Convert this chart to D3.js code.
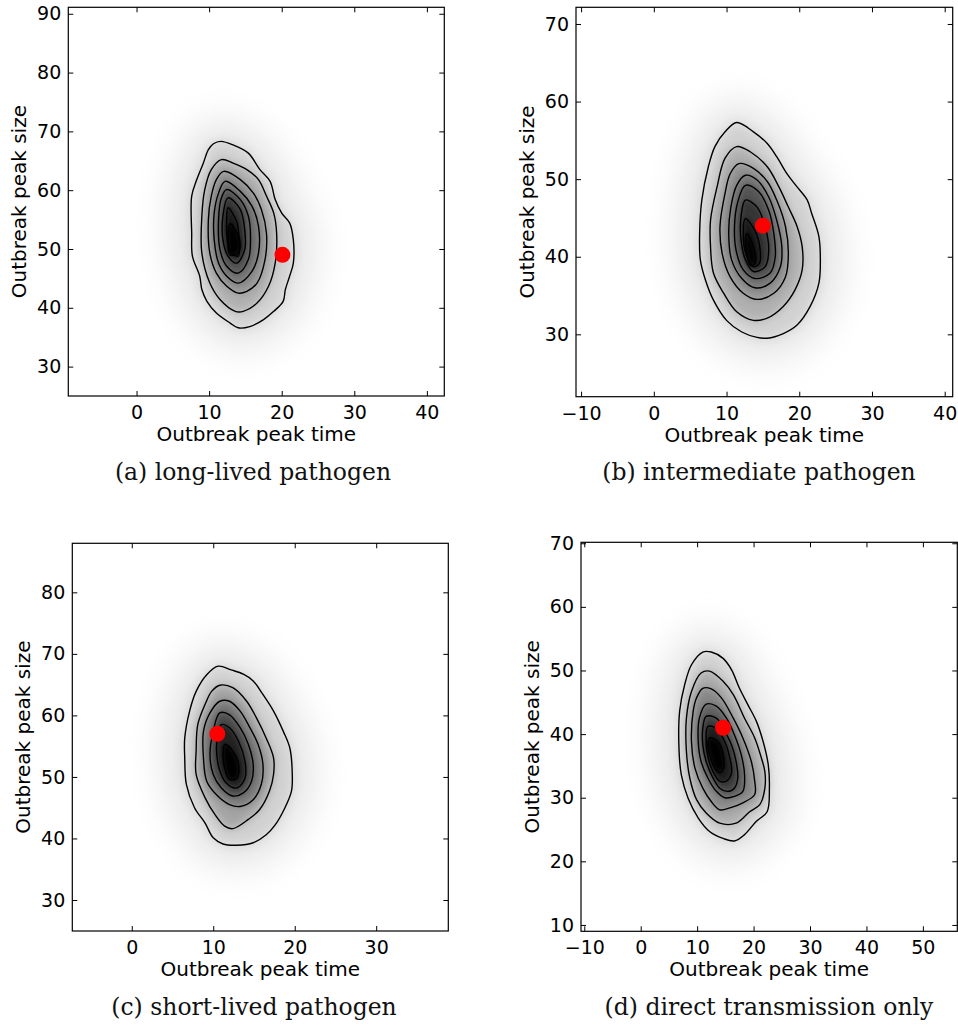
<!DOCTYPE html>
<html>
<head>
<meta charset="utf-8">
<script src="https://cdn.jsdelivr.net/npm/d3@7"></script>
<style>
  body { margin: 0; background: #fff; }
  svg { display: block; }
  .tick text { font-family: "DejaVu Sans", sans-serif; font-size: 19px; fill: #000; }
  .tick line { stroke: #000; }
  .axis-label { font-family: "DejaVu Sans", sans-serif; font-size: 20px; fill: #000; }
  .caption { font-family: "DejaVu Serif", serif; font-size: 23.5px; fill: #111; }
</style>
</head>
<body>
<div id="chart"></div>
<script>
// panel texts and axis limits
const captions = ['(a) long-lived pathogen', '(b) intermediate pathogen', '(c) short-lived pathogen', '(d) direct transmission only'];
const xDomains = [[-9.4, 42.4], [-10.7, 41.1], [-7.3, 38.85], [-10.58, 56.1]];
const yDomains = [[25, 91.1], [21.96, 72.15], [24.96, 87.97], [9.0, 70.15]];
const xTicks = [[0, 10, 20, 30, 40], [-10, 0, 10, 20, 30, 40], [0, 10, 20, 30], [-10, 0, 10, 20, 30, 40, 50]];
const yTicks = [[30, 40, 50, 60, 70, 80, 90], [30, 40, 50, 60, 70], [30, 40, 50, 60, 70, 80], [10, 20, 30, 40, 50, 60, 70]];

// observed outbreak (peak time, peak size) - red dots
const observed = [[20.1, 49.0], [15.0, 44.0], [10.5, 57.0], [14.6, 41.0]];

// density contour rings (peak time, peak size), outermost first
const contoursA = [
  [[11.6,68.3],[13.3,67.7],[15.4,66.3],[17.0,63.5],[18.4,61.5],[19.1,58.4],[20.0,56.1],[21.1,54.4],[21.6,51.6],[21.6,47.6],[21.1,45.4],[20.5,43.1],[20.2,41.1],[18.9,39.4],[17.5,38.0],[15.6,36.8],[14.0,36.6],[12.9,37.4],[11.0,39.1],[9.7,41.1],[9.0,43.1],[8.7,45.4],[7.7,48.8],[7.6,52.7],[7.6,59.0],[8.3,61.8],[9.2,64.6],[9.9,66.9],[10.6,67.9]],
  [[11.7,65.2],[13.3,64.6],[15.2,63.5],[16.8,61.8],[17.9,59.0],[18.9,56.1],[19.3,52.7],[19.1,47.6],[18.2,43.7],[16.6,40.8],[14.7,39.4],[13.6,39.4],[11.5,41.4],[10.1,44.2],[9.0,49.3],[9.0,55.6],[9.4,60.1],[10.3,63.5]],
  [[12.0,63.2],[14.3,61.8],[16.1,59.5],[17.2,56.7],[17.9,52.7],[17.7,48.2],[16.6,44.2],[15.2,42.8],[14.0,42.5],[12.4,43.7],[11.0,45.9],[10.1,49.3],[9.9,55.0],[10.3,59.0],[11.0,61.8]],
  [[12.2,61.5],[14.3,59.8],[15.9,57.3],[16.8,53.9],[16.8,49.3],[15.9,46.2],[14.0,44.2],[12.4,45.4],[11.3,47.6],[10.7,51.6],[10.7,56.1],[11.3,59.5]],
  [[12.4,60.1],[14.3,58.4],[15.4,55.6],[15.7,51.6],[15.4,48.2],[14.0,45.9],[12.4,47.1],[11.5,49.9],[11.3,55.0],[11.7,58.7]],
  [[12.6,58.7],[14.3,56.7],[14.9,53.3],[14.9,49.9],[13.8,47.6],[12.6,48.8],[11.9,51.6],[11.9,55.6]],
  [[12.6,57.0],[13.8,54.7],[14.1,52.2],[14.0,48.8],[13.1,49.3],[12.5,51.6],[12.4,54.7]],
  [[12.9,54.3],[14.2,51.6],[14.0,49.3],[12.9,49.0],[12.6,52.1]]
];

const contoursB = [
  [[11.4,57.3],[13.7,56.1],[15.6,54.6],[16.9,52.9],[18.3,50.7],[19.7,49.0],[21.1,47.3],[21.7,45.6],[22.7,42.6],[22.9,39.6],[22.7,36.6],[21.5,33.6],[19.7,31.2],[17.8,30.1],[15.6,29.5],[14.2,29.6],[12.1,30.3],[10.0,31.8],[8.2,34.4],[7.1,37.0],[6.4,39.6],[6.3,43.0],[6.6,47.3],[7.5,51.6],[8.4,54.2],[9.8,56.1]],
  [[11.4,54.2],[13.3,53.5],[15.6,51.6],[17.2,49.0],[18.5,46.4],[19.7,43.9],[20.4,41.3],[20.4,38.3],[19.4,35.7],[17.8,33.6],[15.6,32.1],[13.7,31.8],[11.4,32.9],[9.6,35.3],[8.2,37.9],[7.8,41.3],[7.8,44.7],[8.7,49.0],[9.8,52.7]],
  [[11.7,52.0],[13.7,51.4],[15.6,49.7],[16.9,47.3],[18.1,43.9],[18.5,40.4],[18.1,37.4],[16.5,35.3],[14.2,34.5],[12.3,35.3],[10.5,37.4],[9.4,40.4],[9.1,43.9],[9.8,48.2],[10.5,50.7]],
  [[12.6,50.5],[14.2,49.9],[15.8,47.7],[16.9,44.7],[17.6,41.3],[17.4,38.7],[16.0,36.6],[13.9,36.0],[12.1,37.2],[10.7,39.6],[10.3,43.0],[10.6,46.4],[11.4,49.2]],
  [[12.6,49.2],[14.4,48.4],[15.8,46.0],[16.5,43.0],[16.7,40.0],[16.0,37.9],[13.9,37.2],[12.3,38.3],[11.3,40.9],[11.1,43.9],[11.5,46.9]],
  [[12.6,47.3],[14.2,46.4],[15.3,43.9],[15.8,40.9],[15.3,38.7],[13.7,38.1],[12.6,39.6],[12.0,42.1],[12.0,45.2]],
  [[12.6,44.9],[13.9,43.4],[14.6,41.1],[14.5,39.1],[13.7,38.7],[12.8,40.0],[12.3,42.6]],
  [[12.8,43.0],[13.7,41.3],[13.9,39.1],[13.3,38.9],[12.8,40.4],[12.6,42.1]]
];

const contoursC = [
  [[10.6,68.0],[12.2,67.4],[13.7,66.7],[14.9,65.6],[16.1,63.4],[17.4,60.7],[18.6,57.4],[19.4,54.7],[19.7,50.4],[19.6,47.7],[18.8,45.0],[17.6,42.2],[16.5,40.6],[14.9,39.3],[12.9,38.9],[11.2,39.1],[10.0,40.1],[9.0,42.5],[7.7,45.0],[6.7,48.8],[6.5,53.1],[6.5,56.3],[7.1,60.7],[7.9,63.9],[9.2,66.6]],
  [[10.8,64.9],[12.4,64.5],[14.1,62.3],[15.3,59.6],[16.5,56.3],[17.4,53.1],[17.4,50.4],[16.9,47.7],[15.7,44.7],[14.3,43.1],[12.4,41.6],[11.4,42.0],[10.2,43.9],[9.0,46.6],[7.9,50.4],[7.9,54.2],[8.1,58.5],[9.0,61.8],[9.8,63.9]],
  [[10.8,62.3],[12.0,62.3],[13.3,60.7],[14.5,58.0],[15.5,55.3],[16.1,52.0],[15.9,48.8],[14.9,46.3],[13.3,45.2],[12.0,45.5],[10.4,47.1],[9.2,49.3],[8.8,53.1],[8.8,57.4],[9.6,60.4]],
  [[10.8,60.4],[12.0,60.1],[13.3,58.0],[14.3,55.3],[14.9,52.0],[14.7,49.3],[13.7,47.4],[12.4,46.9],[11.0,48.2],[10.0,50.4],[9.6,53.6],[10.0,57.4]],
  [[11.0,58.5],[12.0,58.0],[13.1,55.8],[13.9,52.5],[13.9,49.8],[12.9,48.2],[11.6,49.0],[10.7,51.5],[10.4,54.7],[10.6,56.9]],
  [[11.4,55.3],[12.4,54.2],[13.1,52.0],[12.9,49.8],[12.0,49.6],[11.4,51.5],[11.2,53.6]]
];

const contoursD = [
  [[11.0,52.9],[12.5,52.9],[14.6,51.9],[16.1,50.1],[17.5,47.2],[19.0,44.6],[20.5,42.0],[21.7,38.8],[22.6,35.2],[22.8,31.5],[22.4,27.8],[20.5,26.3],[18.4,24.2],[16.6,23.2],[14.6,23.6],[12.2,24.7],[10.2,26.8],[8.4,29.9],[7.2,33.6],[6.8,37.3],[6.9,43.6],[7.8,47.8],[9.0,50.9]],
  [[12.2,49.9],[14.6,48.3],[16.4,46.2],[18.4,42.5],[20.2,39.4],[21.4,36.2],[22.0,34.1],[22.0,31.5],[21.1,28.9],[19.3,27.8],[16.9,26.0],[14.0,26.0],[11.6,27.6],[9.9,29.7],[8.7,33.1],[8.1,37.3],[8.1,42.5],[9.0,46.7],[10.7,49.6]],
  [[11.0,47.2],[12.5,47.1],[14.3,45.7],[16.4,42.5],[18.1,39.4],[19.6,35.7],[20.2,32.6],[20.2,30.5],[18.1,29.2],[15.8,28.4],[14.0,28.1],[12.5,29.4],[11.0,31.5],[9.6,34.7],[9.0,38.8],[9.3,43.6],[9.9,45.7]],
  [[11.6,44.7],[13.4,44.4],[15.2,42.5],[16.6,39.9],[17.8,36.8],[18.4,33.6],[18.1,31.0],[16.6,30.2],[14.9,30.0],[13.4,31.0],[11.9,33.1],[10.7,35.7],[10.2,38.8],[10.4,42.5]],
  [[11.6,42.8],[13.4,42.5],[14.6,40.9],[16.1,38.3],[16.9,35.7],[17.2,33.1],[16.6,31.5],[15.4,31.0],[14.0,31.5],[12.7,33.3],[11.6,35.7],[11.0,38.3],[11.0,40.9]],
  [[11.9,41.2],[13.4,40.9],[14.9,38.8],[15.8,36.2],[16.1,33.9],[15.2,32.6],[14.0,32.6],[12.8,34.1],[11.9,36.5],[11.6,38.8]],
  [[12.2,39.4],[13.7,38.8],[14.6,36.8],[14.7,34.7],[14.0,33.9],[13.1,34.7],[12.2,36.8],[11.9,38.3]]
];

const contours = [contoursA, contoursB, contoursC, contoursD];

// plot boxes in page pixels [left, top, right, bottom]
const boxes = [[68.3, 7.3, 444.3, 396], [576, 7.3, 952.7, 396.7], [72.3, 543.3, 448.3, 931], [581, 542.3, 957.3, 931.3]];
const captionPos = [[253, 480], [759, 480], [254, 1015], [769, 1015]];

const $svg = d3.select('#chart').append('svg')
  .attr('width', 958)
  .attr('height', 1025);

const $defs = $svg.append('defs');

// shared blur filters
const blurs = [18, 6, 5, 4, 3, 2.5, 2];
blurs.forEach(s => {
  $defs.append('filter')
    .attr('id', `blur-${String(s).replace('.', '_')}`)
    .attr('x', '-100%').attr('y', '-100%').attr('width', '300%').attr('height', '300%')
    .append('feGaussianBlur').attr('stdDeviation', s);
});
const blurFor = s => `url(#blur-${String(s).replace('.', '_')})`;

const fmt = d3.format('d');

boxes.forEach((b, i) => {
  const [l, t, r, bt] = b;
  const w = r - l, h = bt - t;

  const x = d3.scaleLinear().domain(xDomains[i]).range([0, w]);
  const y = d3.scaleLinear().domain(yDomains[i]).range([h, 0]);

  const line = d3.line()
    .x(d => x(d[0]))
    .y(d => y(d[1]))
    .curve(d3.curveCatmullRomClosed.alpha(0.5));

  $defs.append('clipPath').attr('id', `clip-${i}`)
    .append('rect').attr('width', w).attr('height', h);

  const $plot = $svg.append('g')
    .attr('transform', `translate(${l}, ${t})`);

  const $img = $plot.append('g').attr('clip-path', `url(#clip-${i})`);

  const rings = contours[i];
  const n = rings.length;
  // gray level per band, light at the outer contour, black at the peak
  const shade = k => {
    const v = Math.round(255 * 0.82 * Math.pow(1 - k / (n - 1), 1.1));
    return d3.rgb(v, v, v).formatHex();
  };
  // softer edges for the wide outer bands
  const softness = k => blurs[1 + Math.round(k / (n - 1) * (blurs.length - 2))];

  // faint halo around the outer contour
  $img.append('path')
    .attr('d', line(rings[0]))
    .attr('fill', '#dadada')
    .attr('stroke', '#e6e6e6')
    .attr('stroke-width', 44)
    .attr('stroke-linejoin', 'round')
    .attr('filter', blurFor(blurs[0]));

  // stacked density bands
  $img.append('g')
    .selectAll('path')
    .data(rings)
    .join('path')
    .attr('d', d => line(d))
    .attr('fill', (d, k) => shade(k))
    .attr('filter', (d, k) => blurFor(softness(k)));

  // contour lines
  $img.append('g')
    .selectAll('path')
    .data(rings)
    .join('path')
    .attr('d', d => line(d))
    .attr('fill', 'none')
    .attr('stroke', '#000')
    .attr('stroke-width', 1.4)
    .attr('stroke-linejoin', 'round');

  // observed point
  $img.append('circle')
    .attr('cx', x(observed[i][0]))
    .attr('cy', y(observed[i][1]))
    .attr('r', 8)
    .attr('fill', '#ff0000');

  // axes with inward ticks on all sides
  $plot.append('g')
    .attr('transform', `translate(0, ${h})`)
    .call(d3.axisBottom(x).tickValues(xTicks[i]).tickFormat(fmt).tickSizeInner(-5).tickSizeOuter(0).tickPadding(9.5))
    .call(g => g.select('.domain').remove());

  $plot.append('g')
    .call(d3.axisTop(x).tickValues(xTicks[i]).tickFormat('').tickSizeInner(-5).tickSizeOuter(0))
    .call(g => g.select('.domain').remove());

  $plot.append('g')
    .call(d3.axisLeft(y).tickValues(yTicks[i]).tickFormat(fmt).tickSizeInner(-5).tickSizeOuter(0).tickPadding(7))
    .call(g => g.select('.domain').remove());

  $plot.append('g')
    .attr('transform', `translate(${w}, 0)`)
    .call(d3.axisRight(y).tickValues(yTicks[i]).tickFormat('').tickSizeInner(-5).tickSizeOuter(0))
    .call(g => g.select('.domain').remove());

  $plot.selectAll('.tick text').attr('font-size', null).attr('font-family', null);

  $plot.append('rect')
    .attr('width', w)
    .attr('height', h)
    .attr('fill', 'none')
    .attr('stroke', '#000')
    .attr('stroke-width', 1.2);

  $plot.append('text')
    .attr('class', 'axis-label')
    .attr('x', w / 2)
    .attr('y', h + 45)
    .attr('text-anchor', 'middle')
    .text('Outbreak peak time');

  $plot.append('text')
    .attr('class', 'axis-label')
    .attr('transform', `translate(-42, ${h / 2}) rotate(-90)`)
    .attr('text-anchor', 'middle')
    .text('Outbreak peak size');

  $svg.append('text')
    .attr('class', 'caption')
    .attr('x', captionPos[i][0])
    .attr('y', captionPos[i][1])
    .attr('text-anchor', 'middle')
    .text(captions[i]);
});
</script>
</body>
</html>
